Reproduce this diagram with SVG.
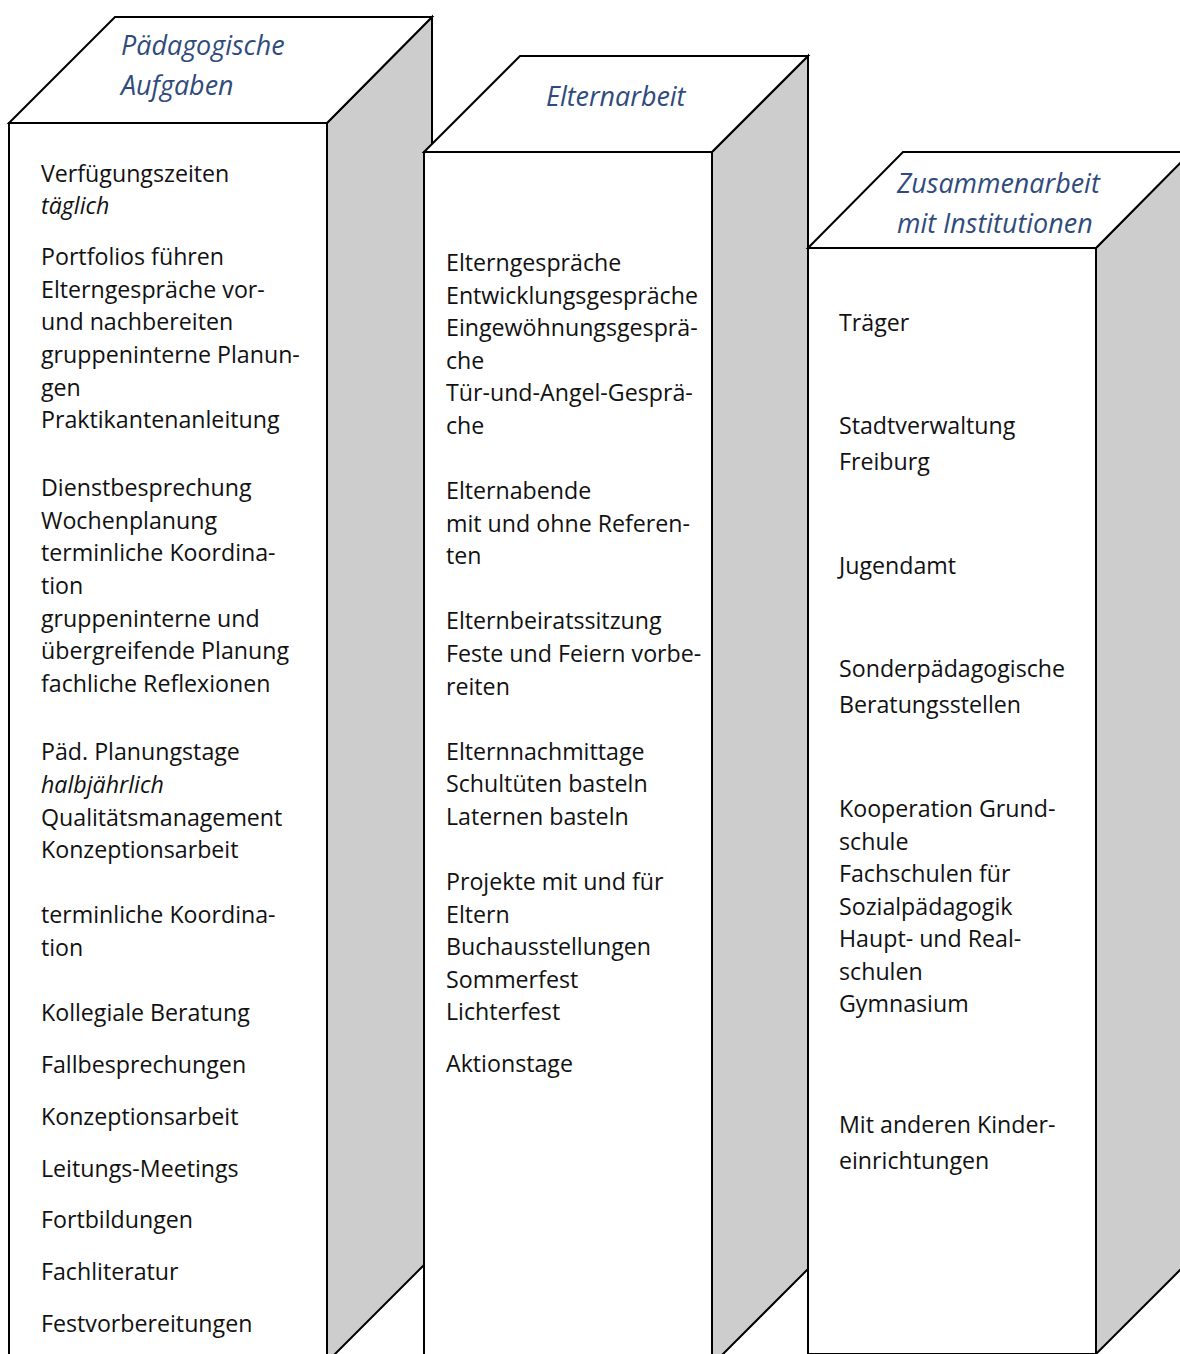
<svg xmlns="http://www.w3.org/2000/svg" width="1180" height="1354" viewBox="0 0 1180 1354">
<style>
.face{fill:#fff;stroke:#000;stroke-width:2;stroke-linejoin:miter}
.side{fill:#cdcdcd;stroke:#000;stroke-width:2}
.t{font-family:"Open Sans","Noto Sans","Liberation Sans",sans-serif;font-size:23.2px;fill:#111}
.i{font-style:italic}
.h{font-family:"Open Sans","Noto Sans","Liberation Sans",sans-serif;font-size:26.9px;font-style:italic;fill:#2f4b7c}
</style>
<rect width="1180" height="1354" fill="#fff"/>
<g id="box-paedagogische-aufgaben">
<polygon class="side" points="327,123 432,17 432,1257 327,1362"/>
<polygon class="face" points="9,123 115,17 432,17 327,123"/>
<rect class="face" x="9" y="123" width="318" height="1240"/>
<text class="h" x="121" y="55">Pädagogische</text>
<text class="h" x="121" y="95">Aufgaben</text>
<text class="t" x="41" y="182">Verfügungszeiten</text>
<text class="t i" x="41" y="214">täglich</text>
<text class="t" x="41" y="265">Portfolios führen</text>
<text class="t" x="41" y="298">Elterngespräche vor-</text>
<text class="t" x="41" y="330">und nachbereiten</text>
<text class="t" x="41" y="363">gruppeninterne Planun-</text>
<text class="t" x="41" y="396">gen</text>
<text class="t" x="41" y="428">Praktikantenanleitung</text>
<text class="t" x="41" y="496">Dienstbesprechung</text>
<text class="t" x="41" y="529">Wochenplanung</text>
<text class="t" x="41" y="561">terminliche Koordina-</text>
<text class="t" x="41" y="594">tion</text>
<text class="t" x="41" y="627">gruppeninterne und</text>
<text class="t" x="41" y="659">übergreifende Planung</text>
<text class="t" x="41" y="692">fachliche Reflexionen</text>
<text class="t" x="41" y="760">Päd. Planungstage</text>
<text class="t i" x="41" y="793">halbjährlich</text>
<text class="t" x="41" y="826">Qualitätsmanagement</text>
<text class="t" x="41" y="858">Konzeptionsarbeit</text>
<text class="t" x="41" y="923">terminliche Koordina-</text>
<text class="t" x="41" y="956">tion</text>
<text class="t" x="41" y="1021">Kollegiale Beratung</text>
<text class="t" x="41" y="1073">Fallbesprechungen</text>
<text class="t" x="41" y="1125">Konzeptionsarbeit</text>
<text class="t" x="41" y="1177">Leitungs-Meetings</text>
<text class="t" x="41" y="1228">Fortbildungen</text>
<text class="t" x="41" y="1280">Fachliteratur</text>
<text class="t" x="41" y="1332">Festvorbereitungen</text>
</g>
<g id="box-elternarbeit">
<polygon class="side" points="712,152 808,56 808,1269 712,1365"/>
<polygon class="face" points="424,152 520,56 808,56 712,152"/>
<rect class="face" x="424" y="152" width="288" height="1213"/>
<text class="h" x="546" y="106">Elternarbeit</text>
<text class="t" x="446" y="271">Elterngespräche</text>
<text class="t" x="446" y="304">Entwicklungsgespräche</text>
<text class="t" x="446" y="336">Eingewöhnungsgesprä-</text>
<text class="t" x="446" y="369">che</text>
<text class="t" x="446" y="401">Tür-und-Angel-Gesprä-</text>
<text class="t" x="446" y="434">che</text>
<text class="t" x="446" y="499">Elternabende</text>
<text class="t" x="446" y="532">mit und ohne Referen-</text>
<text class="t" x="446" y="564">ten</text>
<text class="t" x="446" y="629">Elternbeiratssitzung</text>
<text class="t" x="446" y="662">Feste und Feiern vorbe-</text>
<text class="t" x="446" y="695">reiten</text>
<text class="t" x="446" y="760">Elternnachmittage</text>
<text class="t" x="446" y="792">Schultüten basteln</text>
<text class="t" x="446" y="825">Laternen basteln</text>
<text class="t" x="446" y="890">Projekte mit und für</text>
<text class="t" x="446" y="923">Eltern</text>
<text class="t" x="446" y="955">Buchausstellungen</text>
<text class="t" x="446" y="988">Sommerfest</text>
<text class="t" x="446" y="1020">Lichterfest</text>
<text class="t" x="446" y="1072">Aktionstage</text>
</g>
<g id="box-zusammenarbeit">
<polygon class="side" points="1096,248 1191,152 1191,1259 1096,1354"/>
<polygon class="face" points="808,248 903,152 1191,152 1096,248"/>
<rect class="face" x="808" y="248" width="288" height="1106"/>
<text class="h" x="897" y="193">Zusammenarbeit</text>
<text class="h" x="897" y="233">mit Institutionen</text>
<text class="t" x="839" y="331">Träger</text>
<text class="t" x="839" y="434">Stadtverwaltung</text>
<text class="t" x="839" y="470">Freiburg</text>
<text class="t" x="839" y="574">Jugendamt</text>
<text class="t" x="839" y="677">Sonderpädagogische</text>
<text class="t" x="839" y="713">Beratungsstellen</text>
<text class="t" x="839" y="817">Kooperation Grund-</text>
<text class="t" x="839" y="850">schule</text>
<text class="t" x="839" y="882">Fachschulen für</text>
<text class="t" x="839" y="915">Sozialpädagogik</text>
<text class="t" x="839" y="947">Haupt- und Real-</text>
<text class="t" x="839" y="980">schulen</text>
<text class="t" x="839" y="1012">Gymnasium</text>
<text class="t" x="839" y="1133">Mit anderen Kinder-</text>
<text class="t" x="839" y="1169">einrichtungen</text>
</g>
<g id="connectors"></g>
</svg>
